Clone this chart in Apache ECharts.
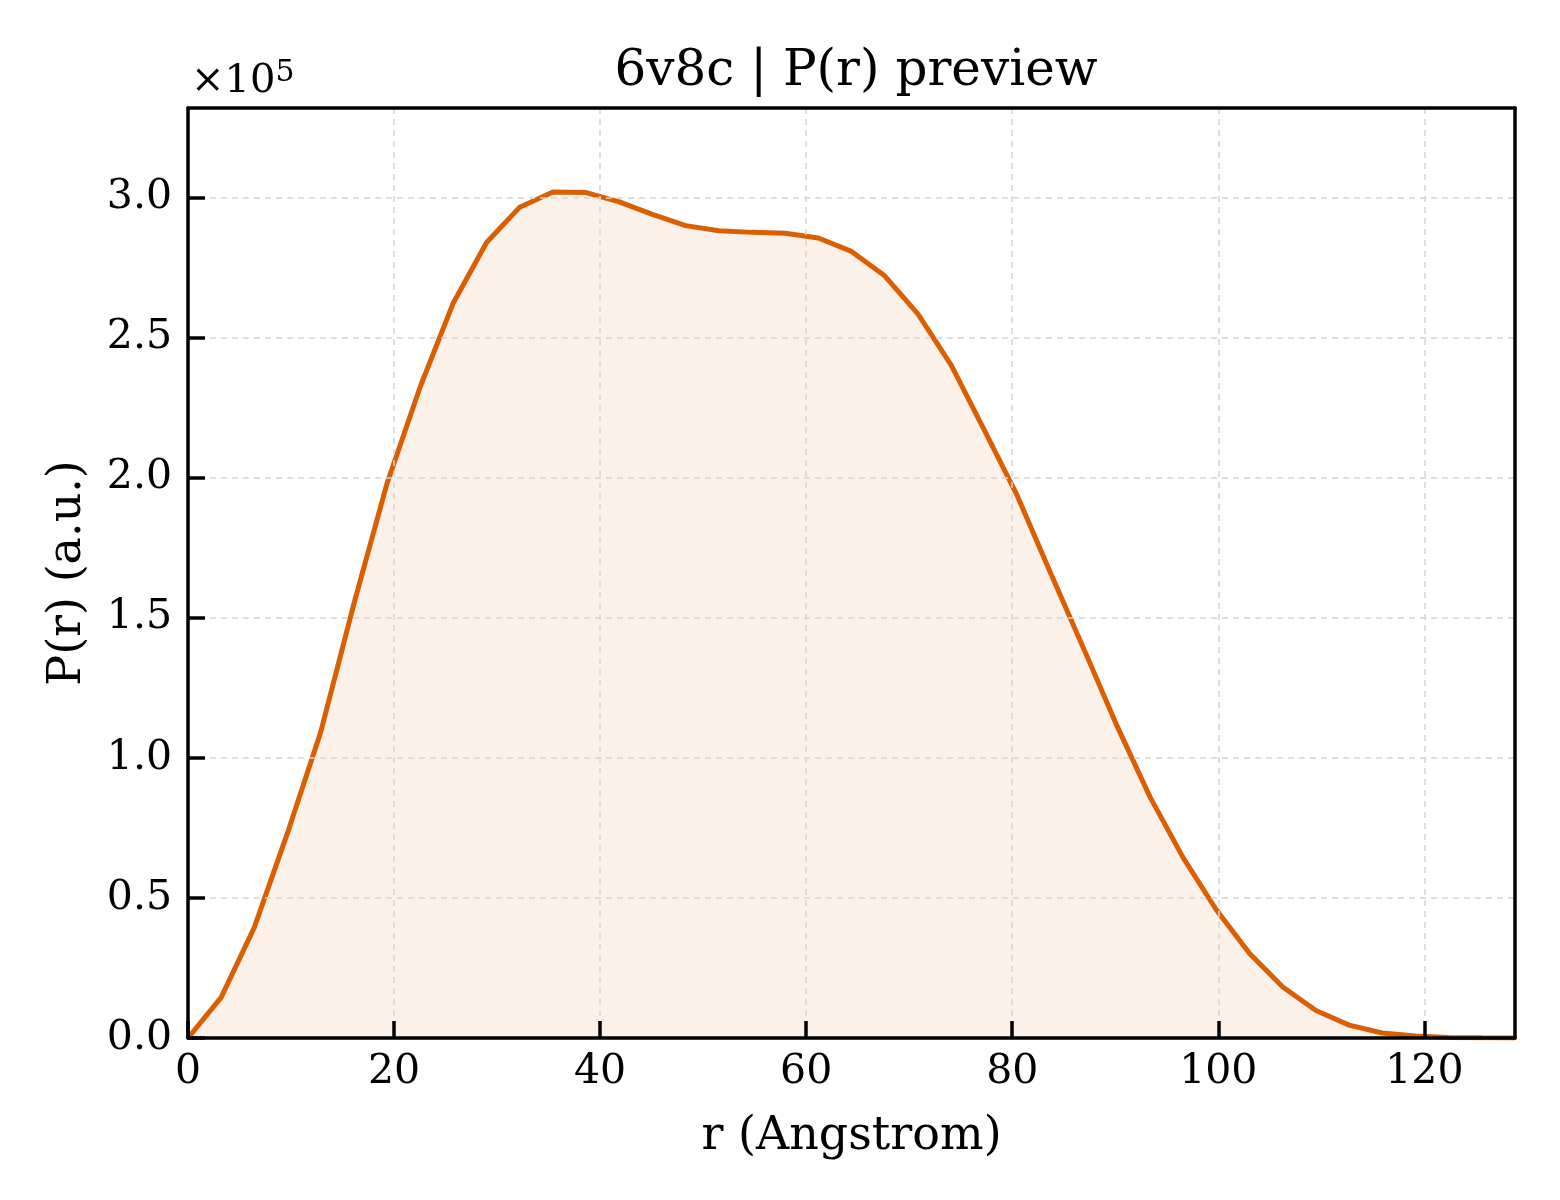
<!DOCTYPE html>
<html>
<head>
<meta charset="utf-8">
<script src="https://cdn.jsdelivr.net/npm/echarts@6/dist/echarts.min.js"></script>
<style>html,body{margin:0;padding:0;background:#fff;}#chart{width:1560px;height:1200px;}</style>
</head>
<body>
<div id="chart"></div>
<script>
const titleText = "6v8c | P(r) preview";
const xAxisName = "r (Angstrom)";
const yAxisName = "P(r) (a.u.)";
const rValues = [0, 3.22, 6.44, 9.66, 12.88, 16.1, 19.32, 22.54, 25.76, 28.98, 32.2, 35.42, 38.64, 41.86, 45.08, 48.3, 51.52, 54.74, 57.96, 61.18, 64.4, 67.62, 70.84, 74.06, 77.28, 80.5, 83.72, 86.94, 90.16, 93.38, 96.6, 99.82, 103.04, 106.26, 109.48, 112.7, 115.92, 119.14, 122.36, 125.58, 128.8];
const prValues = [0, 14500, 39500, 73200, 109200, 155000, 198000, 232500, 262500, 284000, 296600, 302000, 301800, 298500, 294000, 290000, 288200, 287600, 287300, 285600, 280800, 272100, 258500, 240300, 217100, 193500, 166000, 139000, 111500, 86000, 64300, 45700, 30200, 18200, 9800, 4600, 1800, 700, 200, 80, 20];
const xMax = 128.8;
const yMax = 332000;
const yScaleExp = 5;

const chart = echarts.init(document.getElementById('chart'), null, {renderer: 'canvas'});
const FONT = 'DejaVu Serif';
const data = rValues.map((r, i) => [r, prValues[i]]);
const gridLine = {show: true, lineStyle: {color: '#d4d4d4', width: 1.5, type: [6, 5]}};
const frameAxis = {show: true, onZero: false, lineStyle: {color: '#000', width: 3.5}};
chart.setOption({
  backgroundColor: '#ffffff',
  animation: false,
  textStyle: {fontFamily: FONT, color: '#000'},
  title: {
    text: titleText,
    left: 851, top: 42, textAlign: 'center',
    textStyle: {fontFamily: FONT, fontSize: 50, fontWeight: 'normal', color: '#000'}
  },
  grid: {left: 188, right: 45, top: 108, bottom: 162, containLabel: false},
  graphic: [{
    type: 'text', left: 191, top: 58,
    style: {
      text: '{a|×10}{b|' + yScaleExp + '}',
      rich: {
        a: {fontFamily: FONT, fontSize: 40, fill: '#000', verticalAlign: 'bottom'},
        b: {fontFamily: FONT, fontSize: 30, fill: '#000', verticalAlign: 'top', padding: [0, 0, 14, 0]}
      }
    }
  }],
  xAxis: [{
    type: 'value', position: 'bottom', min: 0, max: xMax, interval: 20,
    name: xAxisName, nameLocation: 'middle', nameGap: 76,
    nameTextStyle: {fontFamily: FONT, fontSize: 46, color: '#000'},
    axisLine: frameAxis,
    axisTick: {show: true, inside: true, length: 17, lineStyle: {color: '#000000', width: 3.5}},
    axisLabel: {fontFamily: FONT, fontSize: 41, color: '#000', margin: 14, showMaxLabel: false},
    splitLine: gridLine,
    z: 10
  }, {
    type: 'value', position: 'top', min: 0, max: xMax, interval: 20,
    axisLine: frameAxis, axisTick: {show: false}, axisLabel: {show: false}, splitLine: {show: false},
    z: 10
  }],
  yAxis: [{
    type: 'value', position: 'left', min: 0, max: yMax, interval: 50000,
    name: yAxisName, nameLocation: 'middle', nameGap: 97, nameRotate: 90,
    nameTextStyle: {fontFamily: FONT, fontSize: 46, color: '#000'},
    axisLine: frameAxis,
    axisTick: {show: true, inside: true, length: 17, lineStyle: {color: '#000000', width: 3.5}},
    axisLabel: {fontFamily: FONT, fontSize: 41, color: '#000', margin: 16, showMaxLabel: false,
      formatter: v => (v / Math.pow(10, yScaleExp)).toFixed(1)},
    splitLine: gridLine,
    z: 10
  }, {
    type: 'value', position: 'right', min: 0, max: yMax, interval: 50000,
    axisLine: frameAxis, axisTick: {show: false}, axisLabel: {show: false}, splitLine: {show: false},
    z: 10
  }],
  series: [{
    type: 'line', data: data, symbol: 'none', smooth: false,
    xAxisIndex: 0, yAxisIndex: 0,
    lineStyle: {color: '#D95F02', width: 5},
    areaStyle: {color: 'rgba(217,95,2,0.13)'},
    z: 3
  }]
});
</script>
</body>
</html>
